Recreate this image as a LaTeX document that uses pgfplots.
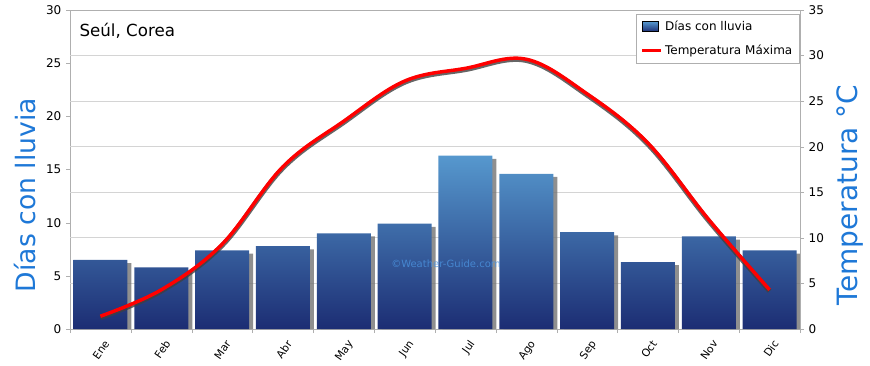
\documentclass[border=0pt]{standalone}
\usepackage{fontspec}
\setmainfont{DejaVu Sans}
\usepackage{pgfplots}
\pgfplotsset{compat=1.18}
\definecolor{barTop}{RGB}{86,152,206}
\definecolor{barMid}{RGB}{40,92,168}
\definecolor{barBot}{RGB}{28,45,115}
\definecolor{labBlue}{RGB}{30,120,215}
\definecolor{gridc}{RGB}{212,212,212}
\definecolor{axc}{RGB}{175,175,175}
\definecolor{shad}{RGB}{115,115,115}
\pgfplotstableread{
x rain shadow
0 6.5 6.2
1 5.8 5.5
2 7.4 7.1
3 7.8 7.5
4 9.0 8.7
5 9.9 9.6
6 16.3 16.0
7 14.6 14.3
8 9.1 8.8
9 6.3 6.0
10 8.7 8.4
11 7.4 7.1
}\raindata
\pgfplotstableread{
x temp
0 1.4
1 4.3
2 9.3
3 17.8
4 22.8
5 27.2
6 28.6
7 29.6
8 25.8
9 20.4
10 12.0
11 4.3
}\tempdata
\begin{document}
\begin{tikzpicture}
\useasboundingbox (0pt,0pt) rectangle (652.5pt,273.75pt);
\begin{axis}[
  at={(52.5pt,27pt)}, anchor=south west, scale only axis,
  width=547.5pt, height=239.25pt,
  xmin=-0.5, xmax=11.5, ymin=0, ymax=30,
  axis line style={axc}, tick style={axc},
  tick align=outside, major tick length=3pt,
  xtick pos=bottom, ytick pos=left,
  ytick={0,5,...,30},
  extra y ticks={4.2857,8.5714,12.857,17.143,21.429,25.714},
  extra y tick labels={},
  extra y tick style={grid=major, major tick length=0pt},
  grid style={gridc, line width=0.8pt},
  xtick={-0.5,0.5,...,11.5},
  x tick label as interval,
  xticklabels={Ene,Feb,Mar,Abr,May,Jun,Jul,Ago,Sep,Oct,Nov,Dic},
  x tick label style={rotate=55, anchor=north east, font=\fontsize{8}{9}\selectfont, xshift=1pt, yshift=-1pt},
  y tick label style={font=\fontsize{9}{10}\selectfont},
  /pgf/number format/assume math mode=true,
  ylabel={Días con lluvia},
  ylabel style={at={(axis description cs:-0.062,0.42)}, anchor=center, font=\fontsize{20}{22}\selectfont, text=labBlue},
]
\addplot[ybar, bar width=40.5pt, bar shift=3pt, fill=shad, draw=none, opacity=0.8] table[x=x,y=shadow]{\raindata};
\addplot[ybar, bar width=40.5pt, bar shift=0pt, draw=none, top color=barTop, middle color=barMid, bottom color=barBot] table[x=x,y=rain]{\raindata};
\node[text=labBlue!80, opacity=0.8, font=\fontsize{7.5}{8}\selectfont] at (axis cs:5.68,6.1) {©Weather-Guide.com};
\node[anchor=west, font=\fontsize{12.5}{14}\selectfont] at (axis cs:-0.42,28.0) {Seúl, Corea};
\end{axis}
\begin{axis}[
  at={(52.5pt,27pt)}, anchor=south west, scale only axis,
  width=547.5pt, height=239.25pt,
  xmin=-0.5, xmax=11.5, ymin=0, ymax=35,
  hide x axis,
  axis y line*=right,
  axis line style={axc}, tick style={axc},
  tick align=outside, major tick length=3pt,
  ytick={0,5,...,35},
  y tick label style={font=\fontsize{9}{10}\selectfont},
  /pgf/number format/assume math mode=true,
  ylabel={Temperatura °C},
  ylabel style={at={(axis description cs:1.068,0.42)}, anchor=center, font=\fontsize{21}{23}\selectfont, text=labBlue},
  legend style={at={(0.999,0.987)}, anchor=north east, draw=axc, font=\fontsize{9}{10}\selectfont, row sep=5pt, inner sep=3pt},
  legend cell align=left,
]
\addlegendimage{legend image code/.code={\shade[top color=barTop, bottom color=barBot] (0pt,-3.5pt) rectangle (12pt,4pt);}}
\addlegendentry{Días con lluvia}
\addplot[smooth, tension=0.6, line width=3.6pt, color=black!75, opacity=0.8, yshift=-1pt, forget plot] table[x=x,y=temp]{\tempdata};
\addplot[smooth, tension=0.6, line width=2.6pt, color=red, legend image code/.code={\draw[red, line width=2.5pt] (0pt,0pt) -- (14pt,0pt);}] table[x=x,y=temp]{\tempdata};
\addlegendentry{Temperatura Máxima}
\end{axis}
\end{tikzpicture}
\end{document}
